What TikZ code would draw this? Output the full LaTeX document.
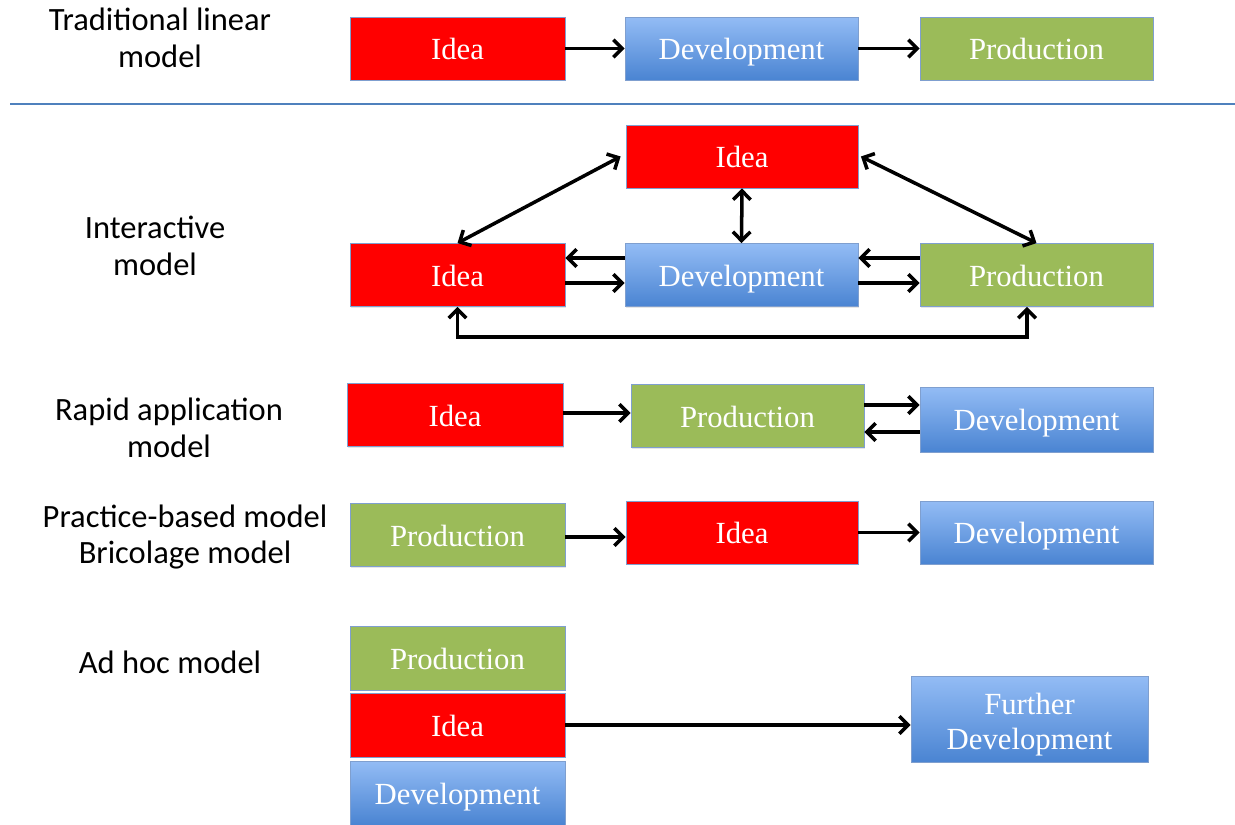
\documentclass[tikz,border=0pt]{standalone}
\usepackage{fontspec}
\setmainfont{Liberation Serif}
\newfontfamily\modelfont{Carlito}
\usetikzlibrary{arrows.meta,shadows}
\definecolor{ideared}{HTML}{FF0000}
\definecolor{prodgreen}{HTML}{9BBB59}
\definecolor{devtop}{HTML}{93BCF5}
\definecolor{devbot}{HTML}{4A84D2}
\definecolor{rimblue}{HTML}{7F9FCF}
\definecolor{rule}{HTML}{4F81BD}
\tikzset{
  box/.style={draw=rimblue, line width=0.5pt, inner sep=0pt, text=white,
    minimum height=1.26cm, align=center, text height=13pt, text depth=0pt,
    font=\fontsize{17.5}{20}\selectfont,
    drop shadow={opacity=0.2, shadow xshift=0.6pt, shadow yshift=-0.8pt}},
  ideabox/.style={box, fill=ideared},
  prodbox/.style={box, fill=prodgreen},
  devbox/.style={box, top color=devtop, bottom color=devbot},
  modellabel/.style={align=center, font=\modelfont\fontsize{18.5}{21}\selectfont},
  arr/.style={line width=2pt, -{Straight Barb[length=5pt,width=10pt]}},
  twoway/.style={line width=2pt, {Straight Barb[length=5pt,width=10pt]}-{Straight Barb[length=5pt,width=10pt]}}
}
\begin{document}
\begin{tikzpicture}[x=0.02cm, y=-0.02cm]
  \useasboundingbox (0,0) rectangle (1235,825);
  % Labels
  \node[modellabel] (lblTrad) at (160,38) {Traditional linear\\model};
  \node[modellabel] (lblInter) at (155,246) {Interactive\\model};
  \node[modellabel] (lblRapid) at (169,428) {Rapid application\\model};
  \node[modellabel] (lblPract) at (185,537) {Practice-based model\\Bricolage model};
  \node[modellabel] (lblAdhoc) at (170,662) {Ad hoc model};
  % Separator
  \draw[rule, line width=1.6pt] (10,104) -- (1235,104);
  % Traditional linear
  \node[ideabox, minimum width=4.3cm] (ideaA) at (457.5,48.5) {Idea};
  \node[devbox, minimum width=4.66cm] (devA) at (741.5,48.5) {Development};
  \node[prodbox, minimum width=4.66cm] (prodA) at (1036.5,48.5) {Production};
  \draw[arr] (ideaA.east) -- (devA.west);
  \draw[arr] (devA.east) -- (prodA.west);
  % Interactive
  \node[ideabox, minimum width=4.64cm] (ideaTop) at (742,156.5) {Idea};
  \node[ideabox, minimum width=4.3cm] (ideaB) at (457.5,275) {Idea};
  \node[devbox, minimum width=4.66cm] (devB) at (741.5,275) {Development};
  \node[prodbox, minimum width=4.66cm] (prodB) at (1036.5,275) {Production};
  \draw[twoway] ([xshift=-0.1cm]ideaTop.west) -- (ideaB.north);
  \draw[twoway] ([xshift=0.05cm]ideaTop.east) -- (prodB.north);
  \draw[twoway] (ideaTop.south) -- (devB.north);
  \draw[arr] ([yshift=0.34cm]devB.west) -- ([yshift=0.34cm]devB.west -| ideaB.east);
  \draw[arr] ([yshift=-0.16cm]ideaB.east) -- ([yshift=-0.16cm]ideaB.east -| devB.west);
  \draw[arr] ([yshift=0.34cm]prodB.west) -- ([yshift=0.34cm]prodB.west -| devB.east);
  \draw[arr] ([yshift=-0.16cm]devB.east) -- ([yshift=-0.16cm]devB.east -| prodB.west);
  \draw[twoway] (ideaB.south) -- ++(0,30) -| ([xshift=-0.19cm]prodB.south);
  % Rapid application
  \node[ideabox, minimum width=4.32cm] (ideaC) at (455,415) {Idea};
  \node[prodbox, minimum width=4.66cm] (prodC) at (747.5,416) {Production};
  \node[devbox, minimum width=4.66cm, minimum height=1.3cm] (devC) at (1036.5,419.5) {Development};
  \draw[arr] ([yshift=0.04cm]ideaC.east) -- ([yshift=0.04cm]ideaC.east -| prodC.west);
  \draw[arr] ([yshift=0.22cm]prodC.east) -- ([yshift=0.22cm]prodC.east -| devC.west);
  \draw[arr] ([yshift=-0.32cm]prodC.east -| devC.west) -- ([yshift=-0.32cm]prodC.east);
  % Practice-based
  \node[prodbox, minimum width=4.3cm] (prodD) at (457.5,535) {Production};
  \node[ideabox, minimum width=4.64cm] (ideaD) at (742,532.5) {Idea};
  \node[devbox, minimum width=4.66cm] (devD) at (1036.5,532.5) {Development};
  \draw[arr] ([yshift=-0.04cm]prodD.east) -- ([yshift=-0.04cm]prodD.east -| ideaD.west);
  \draw[arr] (ideaD.east) -- (devD.west);
  % Ad hoc
  \node[prodbox, minimum width=4.3cm, minimum height=1.28cm] (prodE) at (457.5,658) {Production};
  \node[ideabox, minimum width=4.3cm, minimum height=1.28cm] (ideaE) at (457.5,725) {Idea};
  \node[devbox, minimum width=4.3cm, minimum height=1.28cm] (devE) at (457.5,793) {Development};
  \node[devbox, minimum width=4.74cm, minimum height=1.72cm, text height=35pt] (furtherE) at (1029.5,719) {Further\\Development};
  \draw[arr] (ideaE.east) -- (ideaE.east -| furtherE.west);
\end{tikzpicture}
\end{document}
